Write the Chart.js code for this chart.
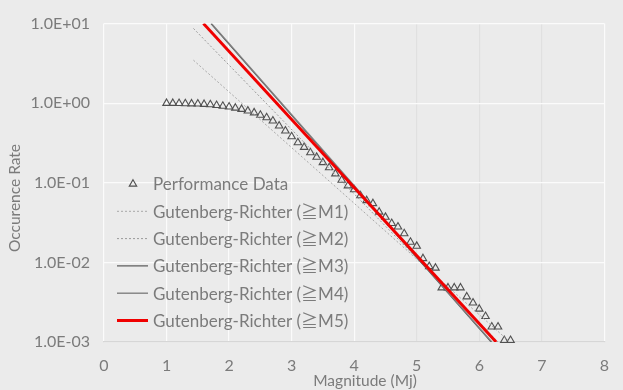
<!DOCTYPE html>
<html>
<head>
<meta charset="utf-8">
<script src="https://cdn.jsdelivr.net/npm/chart.js@4.4.1/dist/chart.umd.min.js"></script>
<style>
  html, body { margin: 0; padding: 0; background: #ebebeb; }
  #wrap { width: 623px; height: 390px; }
</style>
</head>
<body>
<div id="wrap"><canvas id="c" width="623" height="390"></canvas></div>
<script>
// Observed cumulative occurrence rate by magnitude
const magnitude = [1.0, 1.1, 1.2, 1.3, 1.4, 1.5, 1.6, 1.7, 1.8, 1.9,
                   2.0, 2.1, 2.2, 2.3, 2.4, 2.5, 2.6, 2.7, 2.8, 2.9,
                   3.0, 3.1, 3.2, 3.3, 3.4, 3.5, 3.6, 3.7, 3.8, 3.9,
                   4.0, 4.1, 4.2, 4.3, 4.4, 4.5, 4.6, 4.7, 4.8, 4.9,
                   5.0, 5.1, 5.2, 5.3, 5.4, 5.5, 5.6, 5.7, 5.8, 5.9,
                   6.0, 6.1, 6.2, 6.3, 6.4, 6.5];
const occurrenceRate = [1.0, 1.0, 0.995, 0.99, 0.985, 0.98, 0.97, 0.96, 0.94, 0.92,
                        0.90, 0.87, 0.84, 0.80, 0.76, 0.71, 0.66, 0.60, 0.52, 0.45,
                        0.38, 0.32, 0.28, 0.24, 0.21, 0.18, 0.155, 0.13, 0.108, 0.092,
                        0.082, 0.069, 0.060, 0.055, 0.043, 0.037, 0.031, 0.028, 0.023, 0.018,
                        0.016, 0.0112, 0.0089, 0.0085, 0.0048, 0.0048, 0.0048, 0.0048, 0.0037, 0.0031,
                        0.0026, 0.0021, 0.00155, 0.00155, 0.00105, 0.00105];

// Gutenberg-Richter fits (end points of each straight line)
const grM1Mag  = [1.43, 6.49];  const grM1Rate = [3.47, 0.001];
const grM2Mag  = [1.43, 6.30];  const grM2Rate = [8.7, 0.001];
const grM3Mag  = [1.71, 6.19];  const grM3Rate = [10, 0.001];
const grM4Mag  = [1.72, 6.20];  const grM4Rate = [10, 0.001];
const grM5Mag  = [1.59, 6.27];  const grM5Rate = [10, 0.001];

const seriesLabels = ['Performance Data',
                      'Gutenberg-Richter (≧M1)',
                      'Gutenberg-Richter (≧M2)',
                      'Gutenberg-Richter (≧M3)',
                      'Gutenberg-Richter (≧M4)',
                      'Gutenberg-Richter (≧M5)'];
const yTicks = [0.001, 0.01, 0.1, 1, 10];
const xTitle = 'Magnitude (Mj)';
const yTitle = 'Occurence Rate';

const FONT = "Lato, 'Noto Sans CJK JP', sans-serif";
const TEXT = '#7b7b7b';

const pts = (xs, ys) => xs.map((x, i) => ({ x: x, y: ys[i] }));

function fmtExp(v) {
  const e = Math.round(Math.log10(v));
  const sign = e < 0 ? '-' : '+';
  const a = String(Math.abs(e)).padStart(2, '0');
  return '1.0E' + sign + a;
}

const lineDs = (label, xs, ys, color, width, dash, order) => ({
  label, data: pts(xs, ys), showLine: true, pointRadius: 0,
  borderColor: color, borderWidth: width, borderDash: dash, order,
  backgroundColor: color, fill: false
});

const datasets = [
  { label: seriesLabels[0], data: pts(magnitude, occurrenceRate), showLine: false,
    pointStyle: 'triangle', pointRadius: 4.3, pointBorderWidth: 1.1,
    pointBorderColor: '#505050', pointBackgroundColor: 'rgba(0,0,0,0)',
    borderColor: '#505050', backgroundColor: 'rgba(0,0,0,0)', order: 6, clip: false },
  lineDs(seriesLabels[1], grM1Mag, grM1Rate, '#a8a8a8', 1, [2, 2], 5),
  lineDs(seriesLabels[2], grM2Mag, grM2Rate, '#9a9a9a', 1, [2, 2], 4),
  lineDs(seriesLabels[3], grM3Mag, grM3Rate, '#4a4a4a', 1.1, [], 3),
  lineDs(seriesLabels[4], grM4Mag, grM4Rate, '#808080', 1.4, [], 2),
  lineDs(seriesLabels[5], grM5Mag, grM5Rate, '#f00000', 3, [], 1)
];

// background, axis titles and the in-plot legend
const decor = {
  id: 'decor',
  beforeDraw(chart) {
    const c = chart.ctx;
    c.save();
    c.fillStyle = '#ebebeb';
    c.fillRect(0, 0, chart.width, chart.height);
    c.restore();
  },
  afterDraw(chart) {
    const c = chart.ctx;
    c.save();
    c.fillStyle = TEXT;
    c.font = '15.5px ' + FONT;
    c.textAlign = 'center';
    c.textBaseline = 'middle';
    c.fillText(xTitle, 365, 381);
    c.translate(15, 198);
    c.rotate(-Math.PI / 2);
    c.fillText(yTitle, 0, 0);
    c.restore();

    // legend
    c.save();
    const top = 184, step = 27.3;
    chart.data.datasets.forEach((ds, i) => {
      const y = top + i * step;
      if (i === 0) {
        c.strokeStyle = ds.pointBorderColor;
        c.lineWidth = ds.pointBorderWidth;
        c.beginPath();
        const r = ds.pointRadius;
        c.moveTo(133, y - r);
        c.lineTo(133 + r * Math.sin(Math.PI / 3), y + r / 2);
        c.lineTo(133 - r * Math.sin(Math.PI / 3), y + r / 2);
        c.closePath();
        c.stroke();
      } else {
        c.strokeStyle = ds.borderColor;
        c.lineWidth = ds.borderWidth;
        c.setLineDash(ds.borderDash || []);
        c.beginPath();
        c.moveTo(117, y);
        c.lineTo(148, y);
        c.stroke();
        c.setLineDash([]);
      }
      c.fillStyle = TEXT;
      c.font = '17px ' + FONT;
      c.textAlign = 'left';
      c.textBaseline = 'middle';
      c.fillText(ds.label, 153, y + 1);
    });
    c.restore();
  }
};

new Chart(document.getElementById('c'), {
  type: 'scatter',
  data: { datasets },
  options: {
    responsive: false,
    devicePixelRatio: 1,
    animation: false,
    events: [],
    layout: { padding: { left: 0, right: 4, top: 20, bottom: 0 } },
    plugins: { legend: { display: false }, tooltip: { enabled: false } },
    scales: {
      x: {
        type: 'linear', min: 0, max: 8,
        afterFit(s) { s.height = 48; },
        ticks: { stepSize: 1, color: TEXT, padding: 14, font: { family: FONT, size: 16 } },
        grid: {
          drawTicks: false,
          color: ctx => (ctx.tick && ctx.tick.value >= 5 && ctx.tick.value <= 7) ? '#e0e0e0' : '#fbfbfb',
          lineWidth: 1.2
        },
        border: { display: true, color: '#d6d6d6', width: 1.2 }
      },
      y: {
        type: 'logarithmic', min: 0.001, max: 10,
        afterFit(s) { s.width = 104; },
        afterBuildTicks(s) { s.ticks = yTicks.map(v => ({ value: v })); },
        ticks: { color: TEXT, padding: 14, font: { family: FONT, size: 16 },
                 callback: v => fmtExp(v) },
        grid: { drawTicks: false, color: '#fbfbfb', lineWidth: 1.2 },
        border: { display: false }
      }
    }
  },
  plugins: [decor]
});
</script>
</body>
</html>
